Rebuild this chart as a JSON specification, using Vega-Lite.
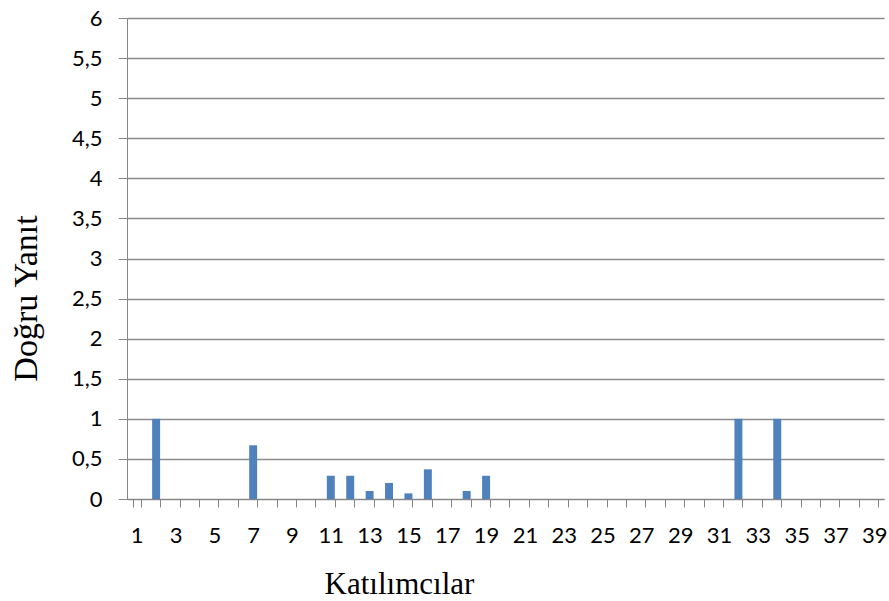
{
  "$schema": "https://vega.github.io/schema/vega-lite/v6.json",
  "width": 757,
  "height": 481,
  "autosize": {"type": "none"},
  "padding": {"left": 127, "top": 18, "right": 5, "bottom": 102},
  "background": "white",
  "config": {"view": {"stroke": null}},
  "data": {
    "values": [
      {"k": 1, "v": 0}, {"k": 2, "v": 1}, {"k": 3, "v": 0}, {"k": 4, "v": 0},
      {"k": 5, "v": 0}, {"k": 6, "v": 0}, {"k": 7, "v": 0.67}, {"k": 8, "v": 0},
      {"k": 9, "v": 0}, {"k": 10, "v": 0}, {"k": 11, "v": 0.29}, {"k": 12, "v": 0.29},
      {"k": 13, "v": 0.1}, {"k": 14, "v": 0.2}, {"k": 15, "v": 0.07}, {"k": 16, "v": 0.37},
      {"k": 17, "v": 0}, {"k": 18, "v": 0.1}, {"k": 19, "v": 0.29}, {"k": 20, "v": 0},
      {"k": 21, "v": 0}, {"k": 22, "v": 0}, {"k": 23, "v": 0}, {"k": 24, "v": 0},
      {"k": 25, "v": 0}, {"k": 26, "v": 0}, {"k": 27, "v": 0}, {"k": 28, "v": 0},
      {"k": 29, "v": 0}, {"k": 30, "v": 0}, {"k": 31, "v": 0}, {"k": 32, "v": 1},
      {"k": 33, "v": 0}, {"k": 34, "v": 1}, {"k": 35, "v": 0}, {"k": 36, "v": 0},
      {"k": 37, "v": 0}, {"k": 38, "v": 0}, {"k": 39, "v": 0}
    ]
  },
  "mark": {"type": "bar", "color": "#4F81BD"},
  "encoding": {
    "x": {
      "field": "k",
      "type": "ordinal",
      "sort": "ascending",
      "scale": {"paddingInner": 0.59, "paddingOuter": 0.295},
      "axis": {
        "title": "Katılımcılar",
        "titleFont": "Liberation Serif",
        "titleFontSize": 31,
        "titleFontWeight": "normal",
        "titleColor": "black",
        "titlePadding": 23,
        "titleX": 272,
        "titleAlign": "center",
        "labelAngle": 0,
        "labelFont": "Lato",
        "labelFontSize": 22,
        "labelColor": "black",
        "labelPadding": 18,
        "labelExpr": "datum.value % 2 == 1 ? datum.label : ''",
        "tickBand": "extent",
        "tickSize": 8,
        "tickColor": "#868686",
        "domainColor": "#868686",
        "grid": false
      }
    },
    "y": {
      "field": "v",
      "type": "quantitative",
      "scale": {"domain": [0, 6], "nice": false},
      "axis": {
        "title": "Doğru Yanıt",
        "titleFont": "Liberation Serif",
        "titleFontSize": 34,
        "titleFontWeight": "normal",
        "titleColor": "black",
        "titlePadding": 28,
        "titleY": 280,
        "titleAlign": "center",
        "values": [0, 0.5, 1, 1.5, 2, 2.5, 3, 3.5, 4, 4.5, 5, 5.5, 6],
        "labelExpr": "replace(format(datum.value, '~g'), '.', ',')",
        "labelFont": "Lato",
        "labelFontSize": 22,
        "labelColor": "black",
        "labelPadding": 16,
        "tickSize": 9,
        "tickColor": "#868686",
        "domainColor": "#868686",
        "gridColor": "#8c8c8c",
        "gridWidth": 1.3
      }
    }
  }
}
